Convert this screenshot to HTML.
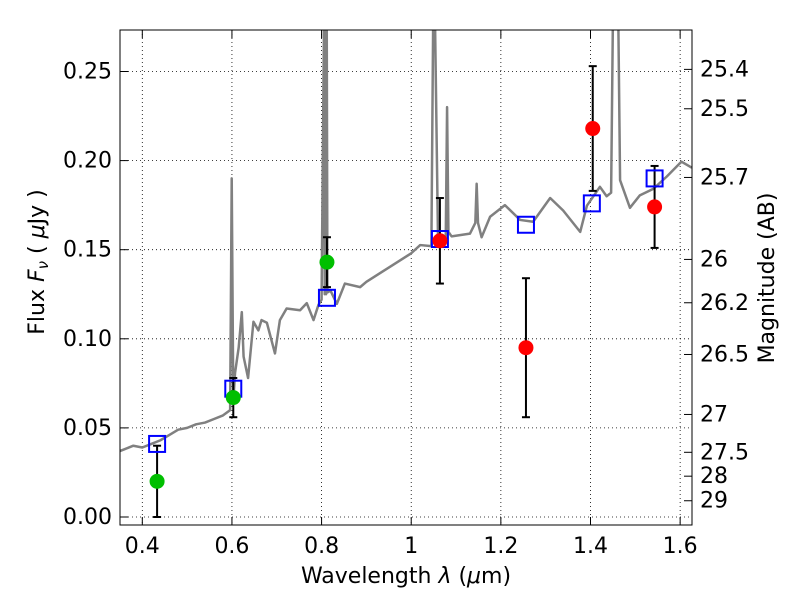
<!DOCTYPE html>
<html><head><meta charset="utf-8"><style>
body{margin:0;background:#fff}
svg text{font-family:"DejaVu Sans","Liberation Sans",sans-serif;fill:#000}
</style></head><body>
<svg id="chart" width="800" height="600" xmlns="http://www.w3.org/2000/svg">
<defs><clipPath id="clip"><rect x="120" y="30" width="572" height="495"/></clipPath></defs>
<rect x="0" y="0" width="800" height="600" fill="#fff"/>
<g id="grid"></g>
<g id="plot" clip-path="url(#clip)"></g>
<rect x="120" y="30" width="572" height="495" fill="none" stroke="#000" stroke-width="1"/>
<g id="axes"></g>
<text x="406" y="583" font-size="22" text-anchor="middle">Wavelength  <tspan font-style="italic">λ</tspan> (<tspan font-style="italic">μ</tspan>m)</text>
<text transform="translate(44,262) rotate(-90)" font-size="22" text-anchor="middle">Flux  <tspan font-style="italic">F<tspan font-size="15" dy="4">ν</tspan></tspan><tspan dy="-4">  (  </tspan><tspan font-style="italic">μ</tspan>Jy )</text>
<text transform="translate(774,278) rotate(-90)" font-size="22" text-anchor="middle">Magnitude (AB)</text>
</svg>
<script>
const xTicks=[0.4,0.6,0.8,1.0,1.2,1.4,1.6];
const xTickLabels=["0.4","0.6","0.8","1","1.2","1.4","1.6"];
const yTicks=[0,0.05,0.10,0.15,0.20,0.25];
const yTickLabels=["0.00","0.05","0.10","0.15","0.20","0.25"];
const magTicks=[25.4,25.5,25.7,26,26.2,26.5,27,27.5,28,29];
const magTickLabels=["25.4","25.5","25.7","26","26.2","26.5","27","27.5","28","29"];
const specWave=[0.35,0.36,0.38,0.40,0.42,0.44,0.46,0.48,0.50,0.52,0.54,0.56,0.58,0.596,0.5995,0.603,0.607,0.615,0.622,0.626,0.636,0.648,0.659,0.666,0.678,0.696,0.707,0.722,0.752,0.767,0.782,0.793,0.800,0.8055,0.807,0.8085,0.810,0.8115,0.813,0.820,0.834,0.852,0.886,0.90,0.95,1.0,1.02,1.045,1.049,1.053,1.06,1.072,1.077,1.080,1.083,1.090,1.131,1.143,1.146,1.149,1.157,1.176,1.209,1.243,1.272,1.310,1.339,1.377,1.392,1.421,1.436,1.446,1.450,1.462,1.466,1.488,1.510,1.540,1.570,1.603,1.626];
const specFlux=[0.037,0.038,0.040,0.039,0.041,0.043,0.046,0.049,0.050,0.052,0.053,0.055,0.057,0.060,0.19,0.065,0.081,0.095,0.115,0.090,0.078,0.1096,0.1047,0.1105,0.109,0.0918,0.1105,0.117,0.116,0.120,0.1105,0.119,0.122,0.28,0.125,0.28,0.125,0.28,0.126,0.127,0.1196,0.131,0.129,0.132,0.140,0.148,0.1526,0.152,0.28,0.28,0.152,0.152,0.155,0.230,0.160,0.1575,0.159,0.165,0.187,0.165,0.157,0.1685,0.175,0.1667,0.1657,0.179,0.172,0.160,0.1747,0.1853,0.180,0.182,0.28,0.28,0.189,0.1735,0.1805,0.1841,0.191,0.1994,0.196];
const modelWave=[0.433,0.603,0.812,1.064,1.256,1.403,1.543];
const modelFlux=[0.041,0.072,0.123,0.156,0.164,0.176,0.190];
const obsWave=[0.433,0.603,0.812,1.064,1.256,1.405,1.543];
const obsFlux=[0.020,0.067,0.143,0.155,0.095,0.218,0.174];
const obsErr=[0.020,0.011,0.014,0.024,0.039,0.035,0.023];
const obsColor=["#00bf00","#00bf00","#00bf00","#ff0000","#ff0000","#ff0000","#ff0000"];
const NS="http://www.w3.org/2000/svg";
function X(v){return 142.3+(v-0.4)*448.2;}
function Y(v){return 517-v*1782;}
function mk(tag,attrs,parent){const e=document.createElementNS(NS,tag);for(const k in attrs)e.setAttribute(k,attrs[k]);parent.appendChild(e);return e;}
const grid=document.getElementById('grid'),plot=document.getElementById('plot'),axes=document.getElementById('axes');
xTicks.forEach((t,i)=>{const x=X(t);
 const g=mk('line',{x1:x,x2:x,y1:30,y2:525,stroke:'#000','stroke-dasharray':'1,3','stroke-width':0.8},grid);
 
 mk('line',{x1:x,x2:x,y1:525,y2:517,stroke:'#000'},axes);mk('line',{x1:x,x2:x,y1:30,y2:38,stroke:'#000'},axes);
 const tx=mk('text',{x:x,y:553,'font-size':22,'text-anchor':'middle'},axes);tx.textContent=xTickLabels[i];
 });
yTicks.forEach((t,i)=>{const y=Y(t);
 const g=mk('line',{x1:120,x2:692,y1:y,y2:y,stroke:'#000','stroke-dasharray':'1,3','stroke-width':0.8},grid);
 
 mk('line',{x1:120,x2:128,y1:y,y2:y,stroke:'#000'},axes);
 const tx=mk('text',{x:112,y:y+7,'font-size':22,'text-anchor':'end'},axes);tx.textContent=yTickLabels[i];
 });
magTicks.forEach((m,i)=>{const y=Y(Math.pow(10,(23.9-m)/2.5));
 mk('line',{x1:684,x2:692,y1:y,y2:y,stroke:'#000'},axes);
 const tx=mk('text',{x:700,y:y+7,'font-size':22},axes);tx.textContent=magTickLabels[i];
 });
const sp=mk('polyline',{points:specWave.map((w,i)=>X(w)+','+Y(specFlux[i])).join(' '),fill:'none',stroke:'#808080','stroke-width':2.5,'stroke-linejoin':'round'},plot);

obsWave.forEach((w,i)=>{const x=X(w);
 const e=mk('line',{x1:x,x2:x,y1:Y(obsFlux[i]-obsErr[i]),y2:Y(obsFlux[i]+obsErr[i]),stroke:'#000','stroke-width':2},plot);
 
 [obsFlux[i]-obsErr[i],obsFlux[i]+obsErr[i]].forEach(v=>mk('line',{x1:x-4,x2:x+4,y1:Y(v),y2:Y(v),stroke:'#000','stroke-width':2},plot));});
modelWave.forEach((w,i)=>{
 const r=mk('rect',{x:X(w)-8,y:Y(modelFlux[i])-8,width:16,height:16,fill:'none',stroke:'#0000ff','stroke-width':2},plot);
 });
obsWave.forEach((w,i)=>{
 const c=mk('circle',{cx:X(w),cy:Y(obsFlux[i]),r:7.5,fill:obsColor[i]},plot);
 });
</script>
</body></html>
